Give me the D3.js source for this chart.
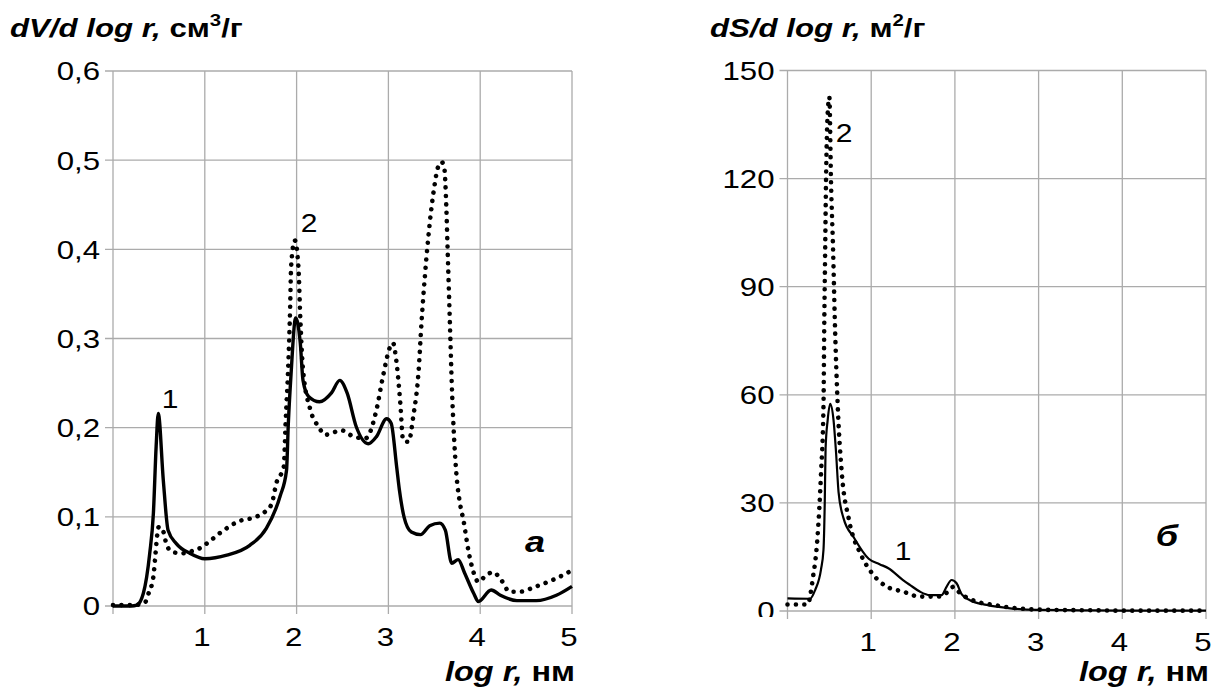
<!DOCTYPE html>
<html>
<head>
<meta charset="utf-8">
<script src="https://cdn.jsdelivr.net/npm/d3@7"></script>
<style>
  body { margin: 0; background: #fff; }
  svg { display: block; font-family: "Liberation Sans", Arial, sans-serif; }
</style>
</head>
<body>
<div id="chart"></div>
<script>
// ---- data ----
// panel a: dV/d log r (cm3/g)
const aLogR1 = [0, 0.1, 0.2, 0.26, 0.33, 0.40, 0.44, 0.47, 0.493, 0.548, 0.60, 0.69, 0.84, 1.0, 1.24, 1.49, 1.67, 1.82, 1.89, 1.91, 1.94, 1.99, 2.04, 2.07, 2.13, 2.25, 2.38, 2.47, 2.55, 2.65, 2.78, 2.87, 2.98, 3.03, 3.09, 3.12, 3.17, 3.25, 3.35, 3.45, 3.56, 3.62, 3.69, 3.76, 3.83, 3.93, 3.98, 4.12, 4.22, 4.40, 4.61, 4.83, 5.0];
const aV1 = [0, 0, 0, 0.001, 0.014, 0.059, 0.104, 0.179, 0.216, 0.141, 0.085, 0.070, 0.059, 0.053, 0.057, 0.068, 0.087, 0.123, 0.152, 0.205, 0.261, 0.323, 0.295, 0.253, 0.235, 0.229, 0.239, 0.253, 0.239, 0.201, 0.182, 0.190, 0.210, 0.205, 0.156, 0.130, 0.100, 0.083, 0.080, 0.090, 0.093, 0.085, 0.048, 0.052, 0.037, 0.014, 0.005, 0.018, 0.012, 0.006, 0.006, 0.012, 0.022];

const aLogR2 = [0, 0.1, 0.2, 0.3, 0.35, 0.38, 0.44, 0.46, 0.48, 0.50, 0.55, 0.58, 0.64, 0.75, 0.84, 0.95, 1.02, 1.18, 1.37, 1.56, 1.66, 1.73, 1.78, 1.86, 1.88, 1.91, 1.93, 1.94, 1.98, 2.02, 2.04, 2.07, 2.15, 2.24, 2.31, 2.49, 2.62, 2.75, 2.87, 2.94, 3.02, 3.05, 3.09, 3.13, 3.16, 3.22, 3.27, 3.33, 3.36, 3.40, 3.45, 3.50, 3.54, 3.58, 3.61, 3.63, 3.645, 3.66, 3.675, 3.69, 3.71, 3.74, 3.78, 3.82, 3.87, 3.93, 3.98, 4.05, 4.14, 4.23, 4.32, 4.43, 4.61, 4.83, 5.0];
const aV2 = [0.001, 0.001, 0.001, 0.002, 0.004, 0.012, 0.033, 0.055, 0.078, 0.089, 0.083, 0.070, 0.061, 0.059, 0.061, 0.065, 0.070, 0.083, 0.095, 0.100, 0.106, 0.115, 0.138, 0.156, 0.205, 0.272, 0.336, 0.380, 0.410, 0.380, 0.324, 0.265, 0.220, 0.201, 0.192, 0.197, 0.190, 0.188, 0.220, 0.257, 0.291, 0.295, 0.272, 0.227, 0.186, 0.184, 0.212, 0.265, 0.317, 0.373, 0.429, 0.470, 0.492, 0.498, 0.490, 0.450, 0.400, 0.350, 0.300, 0.250, 0.200, 0.149, 0.115, 0.095, 0.063, 0.037, 0.027, 0.033, 0.038, 0.029, 0.016, 0.016, 0.022, 0.031, 0.040];

// panel б: dS/d log r (m2/g)
const bLogR1 = [0, 0.27, 0.33, 0.40, 0.43, 0.445, 0.455, 0.48, 0.51, 0.55, 0.58, 0.61, 0.67, 0.79, 0.97, 1.1, 1.21, 1.38, 1.465, 1.58, 1.70, 1.84, 1.90, 1.96, 2.02, 2.08, 2.18, 2.38, 2.66, 2.98, 3.5, 4.0, 4.5, 5.0];
const bS1 = [3.5, 3.4, 5.8, 11.5, 17, 30, 45, 53, 57.5, 53, 44, 33, 25.7, 20.5, 14.5, 13, 11.8, 8.6, 7.2, 5.4, 4.4, 4.4, 6.7, 8.6, 7.7, 4.7, 3.0, 1.7, 0.75, 0.3, 0.2, 0.1, 0.1, 0.1];

const bLogR2 = [0, 0.24, 0.30, 0.36, 0.40, 0.43, 0.44, 0.45, 0.46, 0.48, 0.50, 0.52, 0.545, 0.565, 0.60, 0.65, 0.73, 0.88, 1.0, 1.19, 1.38, 1.58, 1.80, 1.92, 1.98, 2.04, 2.12, 2.26, 2.46, 2.74, 3.14, 3.6, 4.0, 4.5, 5.0];
const bS2 = [1.8, 1.8, 8.6, 21, 38, 57, 81, 100, 119, 138, 142.6, 119, 100, 81, 57, 38, 25.8, 15.5, 10.8, 6.7, 5.4, 4.0, 4.0, 5.4, 6.7, 5.4, 4.0, 2.6, 1.7, 0.75, 0.3, 0.2, 0.1, 0.1, 0.1];

const xTicks = [0, 1, 2, 3, 4, 5];
const xTickLabels = ["", "1", "2", "3", "4", "5"];
const aYTicks = [0, 0.1, 0.2, 0.3, 0.4, 0.5, 0.6];
const aYTickLabels = ["0", "0,1", "0,2", "0,3", "0,4", "0,5", "0,6"];
const bYTicks = [0, 30, 60, 90, 120, 150];
const bYTickLabels = ["0", "30", "60", "90", "120", "150"];

const width = 1220, height = 688;
const SX = 1.2;   // the original is stretched sideways

const svg = d3.select("#chart").append("svg")
    .attr("width", width)
    .attr("height", height);

// text helper, stretched horizontally like the source picture
function label(g, x, y, str, opt) {
  opt = opt || {};
  return g.append("text")
      .attr("transform", `translate(${x},${y}) scale(${SX},1)`)
      .attr("text-anchor", opt.anchor || "start")
      .attr("font-size", opt.size || 26)
      .attr("font-weight", opt.weight || "normal")
      .attr("font-style", opt.style || "normal")
      .attr("dy", opt.dy || null)
      .attr("fill", "#000")
      .text(str);
}

function panel(cfg) {
  const x = d3.scaleLinear([0, 5], cfg.xRange);
  const y = d3.scaleLinear(cfg.yDomain, cfg.yRange);
  const g = svg.append("g");

  // grid + ticks
  g.append("g").selectAll("line")
    .data(cfg.yTicks)
    .join("line")
      .attr("x1", x(0) - 8).attr("x2", x(5))
      .attr("y1", d => y(d)).attr("y2", d => y(d))
      .attr("stroke", "#ababab").attr("stroke-width", 1.3);

  g.append("g").selectAll("line")
    .data(xTicks)
    .join("line")
      .attr("x1", d => x(d)).attr("x2", d => x(d))
      .attr("y1", y(cfg.yDomain[1])).attr("y2", y(0) + 8)
      .attr("stroke", "#ababab").attr("stroke-width", 1.3);

  // tick labels
  const yl = g.append("g");
  if (cfg.clipZero) {
    const id = "clip" + cfg.id;
    svg.append("clipPath").attr("id", id)
      .append("rect").attr("x", 0).attr("y", 0).attr("width", width).attr("height", cfg.clipZero);
    yl.attr("clip-path", `url(#${id})`);
  }
  cfg.yTicks.forEach((d, i) => {
    label(yl, x(0) - 13, y(d), cfg.yTickLabels[i], { anchor: "end", dy: "0.36em" });
  });
  xTicks.forEach((d, i) => {
    label(g, x(d) - 3, y(0) + 40, xTickLabels[i], { anchor: "middle" });
  });

  // curves
  const line = d3.line()
      .x(d => x(d[0]))
      .y(d => y(d[1]))
      .curve(d3.curveMonotoneX);

  g.append("path")
      .datum(d3.zip(cfg.r2, cfg.v2))
      .attr("d", line)
      .attr("fill", "none")
      .attr("stroke", "#000")
      .attr("stroke-width", 4.6)
      .attr("stroke-linecap", "round")
      .attr("stroke-dasharray", "0.01 8.4");

  g.append("path")
      .datum(d3.zip(cfg.r1, cfg.v1))
      .attr("d", line)
      .attr("fill", "none")
      .attr("stroke", "#000")
      .attr("stroke-width", cfg.solidWidth)
      .attr("stroke-linejoin", "round");

  // titles
  const t = g.append("text")
      .attr("transform", `translate(${cfg.titleX},37) scale(${SX},1)`)
      .attr("font-size", 26)
      .attr("font-weight", "bold");
  t.append("tspan").attr("font-style", "italic").text(cfg.title);
  t.append("tspan").text(cfg.unit);
  t.append("tspan").attr("font-size", 17).attr("dy", -11).text(cfg.sup);
  t.append("tspan").attr("dy", 11).text("/г");

  const ax = g.append("text")
      .attr("transform", `translate(${x(5) + 3},681) scale(${SX},1)`)
      .attr("text-anchor", "end")
      .attr("font-size", 27)
      .attr("font-weight", "bold");
  ax.append("tspan").attr("font-style", "italic").text("log r,");
  ax.append("tspan").text(" нм");

  // curve labels
  cfg.notes.forEach(n => {
    label(g, n[0], n[1], n[2], { anchor: "middle", size: n[3], weight: n[4], style: n[5] });
  });
}

panel({
  id: "a",
  xRange: [113, 572], yDomain: [0, 0.6], yRange: [606, 71],
  yTicks: aYTicks, yTickLabels: aYTickLabels,
  r1: aLogR1, v1: aV1, r2: aLogR2, v2: aV2,
  solidWidth: 3.4,
  titleX: 10, title: "dV/d log r,", unit: " см", sup: "3",
  notes: [[170, 408, "1", 25, "normal", "normal"], [309, 232, "2", 25, "normal", "normal"],
          [535, 552, "a", 30, "bold", "italic"]]
});

panel({
  id: "b",
  xRange: [787.5, 1206], yDomain: [0, 150], yRange: [611, 70.5],
  yTicks: bYTicks, yTickLabels: bYTickLabels,
  r1: bLogR1, v1: bS1, r2: bLogR2, v2: bS2,
  solidWidth: 2.2, clipZero: 617,
  titleX: 710, title: "dS/d log r,", unit: " м", sup: "2",
  notes: [[844, 142, "2", 25, "normal", "normal"], [903, 560, "1", 25, "normal", "normal"],
          [1167, 546, "б", 30, "bold", "italic"]]
});
</script>
</body>
</html>
